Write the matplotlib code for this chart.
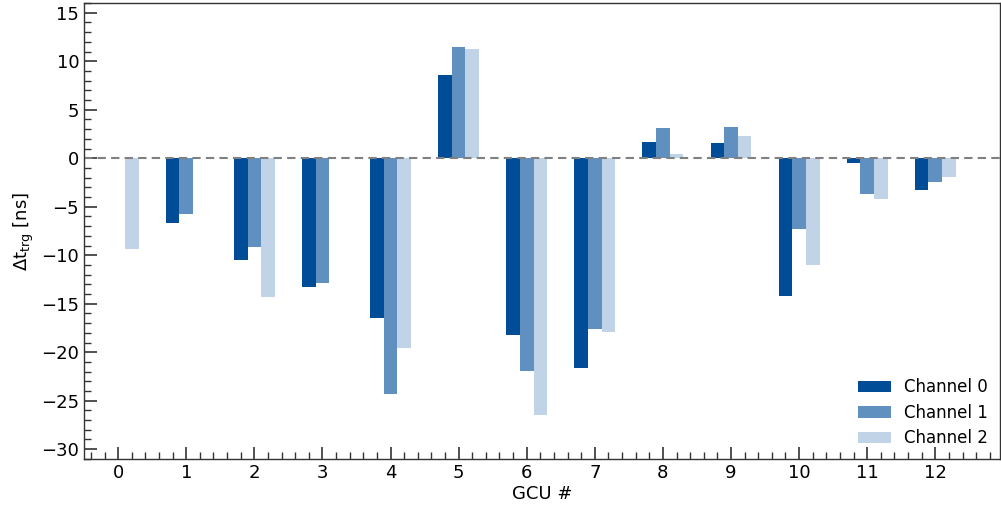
import matplotlib
matplotlib.use("Agg")
import matplotlib.pyplot as plt
import numpy as np
from matplotlib.ticker import MultipleLocator

gcu = list(range(13))
ch0 = [np.nan, -6.7, -10.5, -13.3, -16.5, 8.6, -18.2, -21.6, 1.65, 1.55, -14.2, -0.5, -3.3]
ch1 = [np.nan, -5.7, -9.2, -12.9, -24.3, 11.5, -21.9, -17.6, 3.1, 3.2, -7.3, -3.7, -2.4]
ch2 = [-9.4, np.nan, -14.3, np.nan, -19.6, 11.3, -26.5, -17.9, 0.4, 2.3, -11.0, -4.2, -1.9]
labels = ["Channel 0", "Channel 1", "Channel 2"]
colors = ["#004C97", "#6090C0", "#C0D3E7"]

fig = plt.figure(figsize=(10.01, 5.11), dpi=100)
ax = fig.add_axes([0.084, 0.102, 0.915, 0.892])

x = np.array(gcu, dtype=float)
w = 0.2
for i, (vals, lab, col) in enumerate(zip([ch0, ch1, ch2], labels, colors)):
    ax.bar(x + (i - 1) * w, vals, width=w, color=col, label=lab)

ax.axhline(0, color="#808080", ls="--", lw=1.5, dashes=(4, 2.5))
ax.set_xlim(-0.5, 12.95)
ax.set_ylim(-31, 16)
ax.set_xticks(gcu)
ax.set_xticklabels([str(g) for g in gcu])
ax.xaxis.set_minor_locator(MultipleLocator(0.2))
ax.yaxis.set_major_locator(MultipleLocator(5))
ax.yaxis.set_minor_locator(MultipleLocator(1))
ax.tick_params(which="both", direction="in", top=False, right=False, labelsize=13, color="#333333")
ax.tick_params(which="major", length=9, width=1.2)
ax.tick_params(which="minor", length=5, width=1.0)
for s in ax.spines.values():
    s.set_color("#333333")
    s.set_linewidth(1.0)
ax.set_xlabel("GCU #", fontsize=13, labelpad=2)
ax.set_ylabel(r"$\Delta$t$_{\mathrm{trg}}$ [ns]", fontsize=13, labelpad=4)
ax.legend(loc="lower right", frameon=False, fontsize=12, handlelength=2.0,
          handleheight=0.7, labelspacing=0.45, borderaxespad=0.3)
fig.savefig("out.png", dpi=100)
